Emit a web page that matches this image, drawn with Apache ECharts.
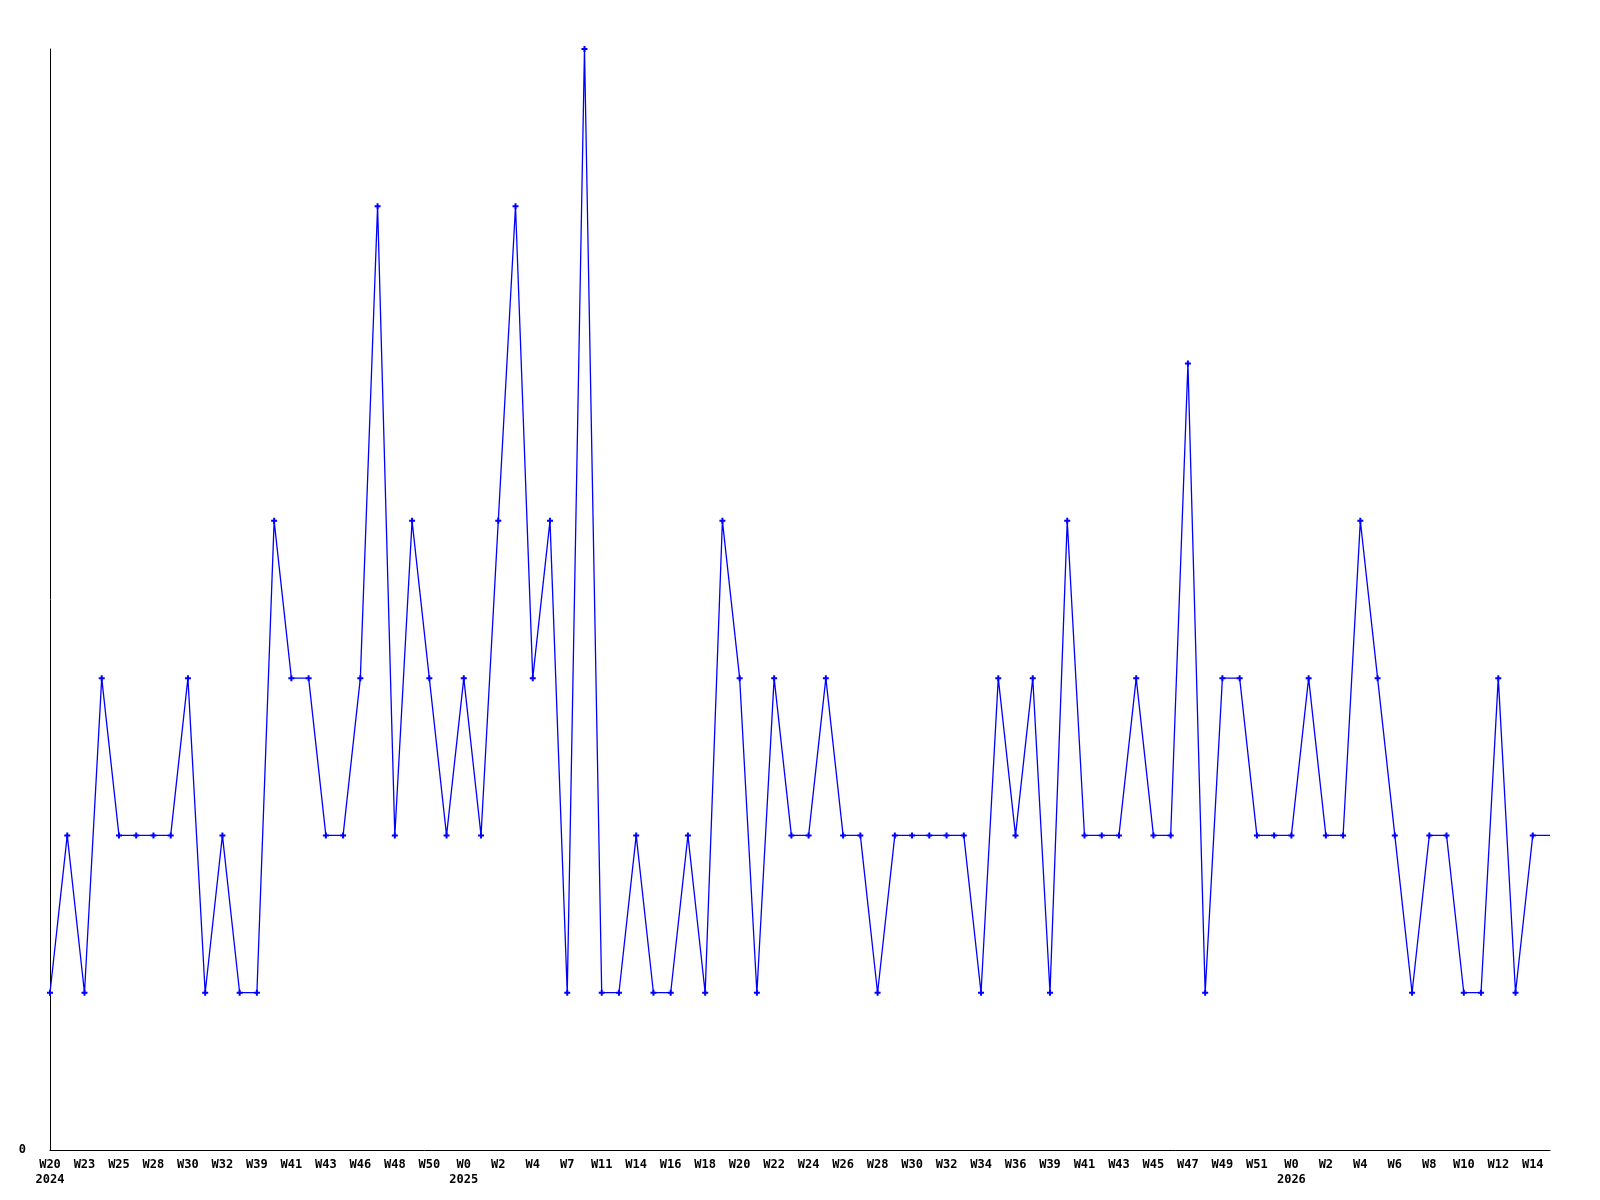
<!DOCTYPE html>
<html>
<head>
<meta charset="utf-8">
<script src="https://cdn.jsdelivr.net/npm/echarts@6/dist/echarts.min.js"></script>
<style>
  html, body { margin: 0; padding: 0; background: #fff; }
  #main { width: 1600px; height: 1200px; }
</style>
</head>
<body>
<div id="main"></div>
<script>
  // week labels, one per data point (every second one is shown)
  let weeks = [
    'W20\n2024', 'W21', 'W23', 'W24', 'W25', 'W26', 'W28', 'W29', 'W30', 'W31',
    'W32', 'W35', 'W39', 'W40', 'W41', 'W42', 'W43', 'W44', 'W46', 'W47',
    'W48', 'W49', 'W50', 'W51', 'W0\n2025', 'W1', 'W2', 'W3', 'W4', 'W5',
    'W7', 'W8', 'W11', 'W12', 'W14', 'W15', 'W16', 'W17', 'W18', 'W19',
    'W20', 'W21', 'W22', 'W23', 'W24', 'W25', 'W26', 'W27', 'W28', 'W29',
    'W30', 'W31', 'W32', 'W33', 'W34', 'W35', 'W36', 'W37', 'W39', 'W40',
    'W41', 'W42', 'W43', 'W44', 'W45', 'W46', 'W47', 'W48', 'W49', 'W50',
    'W51', 'W52', 'W0\n2026', 'W1', 'W2', 'W3', 'W4', 'W5', 'W6', 'W7',
    'W8', 'W9', 'W10', 'W11', 'W12', 'W13', 'W14', 'W15'
  ]
  let counts = [
    1, 2, 1, 3, 2, 2, 2, 2, 3, 1,
    2, 1, 1, 4, 3, 3, 2, 2, 3, 6,
    2, 4, 3, 2, 3, 2, 4, 6, 3, 4,
    1, 7, 1, 1, 2, 1, 1, 2, 1, 4,
    3, 1, 3, 2, 2, 3, 2, 2, 1, 2,
    2, 2, 2, 2, 1, 3, 2, 3, 1, 4,
    2, 2, 2, 3, 2, 2, 5, 1, 3, 3,
    2, 2, 2, 3, 2, 2, 4, 3, 2, 1,
    2, 2, 1, 1, 3, 1, 2, 2
  ]
  let yTicks = [0]

  let font = 'DejaVu Sans Mono'
  let plus = 'path://M2,0h2v2h2v2h-2v2h-2v-2h-2v-2h2z'

  // the current (last) week is drawn without a marker
  let points = counts.map(function (v, i) {
    return i === counts.length - 1 ? { value: v, symbolSize: 0 } : v
  })

  let chart = echarts.init(document.getElementById('main'))
  chart.setOption({
    animation: false,
    backgroundColor: '#fff',
    grid: {
      left: 50,
      right: 50,
      top: 49,
      bottom: 50
    },
    xAxis: {
      type: 'category',
      boundaryGap: false,
      data: weeks,
      axisLine: { lineStyle: { color: '#000', width: 1 } },
      axisTick: { show: false },
      splitLine: { show: false },
      axisLabel: {
        interval: 1,
        margin: 7,
        color: '#000',
        fontFamily: font,
        fontWeight: 'bold',
        fontSize: 12,
        lineHeight: 15
      }
    },
    yAxis: {
      type: 'value',
      min: 0,
      max: 7,
      interval: 7,
      axisLine: { show: true, lineStyle: { color: '#000', width: 1 } },
      axisTick: { show: false },
      splitLine: { show: false },
      axisLabel: {
        margin: 24,
        color: '#000',
        fontFamily: font,
        fontWeight: 'bold',
        fontSize: 12,
        formatter: function (v) {
          return yTicks.indexOf(v) >= 0 ? String(v) : ''
        }
      }
    },
    series: [
      {
        type: 'line',
        data: points,
        symbol: plus,
        symbolSize: 6,
        showAllSymbol: true,
        color: '#0000ff',
        lineStyle: { color: '#0000ff', width: 1.3 },
        itemStyle: { color: '#0000ff' }
      }
    ]
  })
</script>
</body>
</html>
